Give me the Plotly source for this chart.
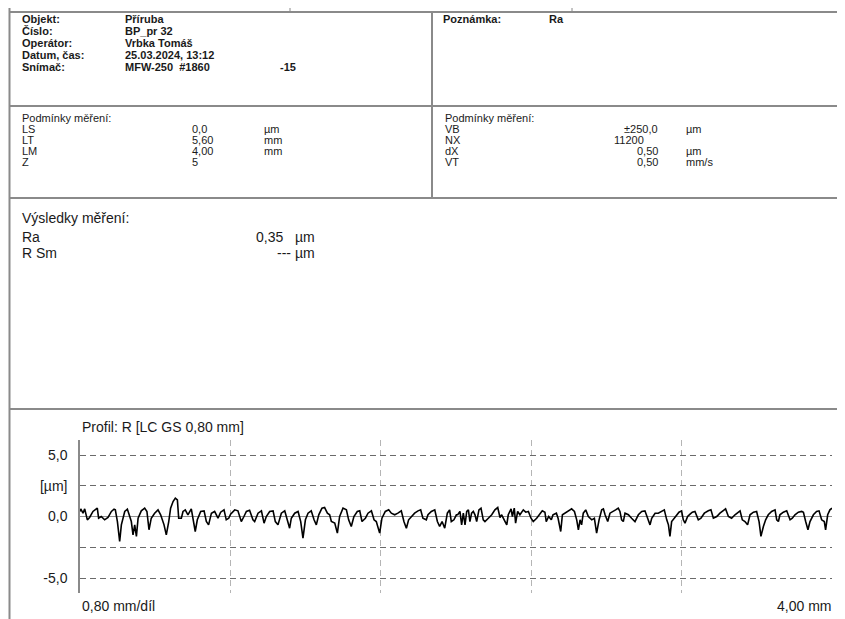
import plotly.graph_objects as go

# the page body keeps its default 8 px margin, so the figure is drawn
# 8 px smaller and every layout position is shifted by that offset
W, H = 845, 619
OFF = 8
FW, FH = W - OFF, H - OFF

# header block
header_labels = ["Objekt:", "Číslo:", "Operátor:", "Datum, čas:", "Snímač:"]
header_values = ["Příruba", "BP_pr 32", "Vrbka Tomáš", "25.03.2024, 13:12", "MFW-250  #1860"]
header_extra = "-15"
note_label, note_value = "Poznámka:", "Ra"

# measuring conditions
cond_title = "Podmínky měření:"
cond_left_names = ["LS", "LT", "LM", "Z"]
cond_left_values = ["0,0", "5,60", "4,00", "5"]
cond_left_units = ["µm", "mm", "mm", ""]
cond_right_names = ["VB", "NX", "dX", "VT"]
cond_right_values = ["±250,0", "11200", "0,50", "0,50"]
cond_right_units = ["µm", "", "µm", "mm/s"]

# results
res_title = "Výsledky měření:"
res_names = ["Ra", "R Sm"]
res_values = ["0,35", "---"]
res_units = ["µm", "µm"]

# profile chart
profile_title = "Profil: R [LC GS 0,80 mm]"
x_grid = [0.0, 0.8, 1.6, 2.4, 3.2, 4.0]
y_ticks = [-5.0, -2.5, 0.0, 2.5, 5.0]
y_ticktext = ["-5,0", "", "0,0", "[µm]", "5,0"]
x_left_label = "0,80 mm/díl"
x_right_label = "4,00 mm"

profile_x = [
    0.000, 0.004, 0.016, 0.025, 0.039, 0.051, 0.069, 0.082, 0.092, 0.099,
    0.113, 0.131, 0.149, 0.167, 0.181, 0.188, 0.199, 0.211, 0.220, 0.238,
    0.252, 0.259, 0.273, 0.282, 0.291, 0.300, 0.309, 0.326, 0.344, 0.356,
    0.367, 0.379, 0.397, 0.415, 0.429, 0.447, 0.459, 0.472, 0.482, 0.495,
    0.507, 0.518, 0.525, 0.539, 0.548, 0.560, 0.574, 0.592, 0.613, 0.624,
    0.642, 0.660, 0.672, 0.684, 0.699, 0.716, 0.734, 0.748, 0.766, 0.778,
    0.791, 0.801, 0.823, 0.840, 0.858, 0.872, 0.885, 0.902, 0.920, 0.929,
    0.947, 0.965, 0.979, 0.991, 1.009, 1.027, 1.039, 1.053, 1.071, 1.089,
    1.103, 1.115, 1.124, 1.142, 1.160, 1.174, 1.186, 1.199, 1.213, 1.230,
    1.245, 1.257, 1.270, 1.287, 1.301, 1.316, 1.328, 1.337, 1.355, 1.369,
    1.381, 1.399, 1.417, 1.429, 1.443, 1.457, 1.475, 1.488, 1.500, 1.518,
    1.532, 1.550, 1.564, 1.576, 1.594, 1.606, 1.624, 1.642, 1.656, 1.674,
    1.691, 1.709, 1.723, 1.736, 1.748, 1.762, 1.780, 1.798, 1.812, 1.824,
    1.842, 1.851, 1.869, 1.887, 1.901, 1.913, 1.926, 1.940, 1.954, 1.966,
    1.975, 1.989, 2.002, 2.009, 2.021, 2.030, 2.039, 2.048, 2.057, 2.066,
    2.074, 2.083, 2.092, 2.101, 2.110, 2.122, 2.133, 2.145, 2.154, 2.172,
    2.190, 2.207, 2.222, 2.234, 2.243, 2.261, 2.270, 2.278, 2.293, 2.300,
    2.310, 2.317, 2.328, 2.340, 2.358, 2.371, 2.385, 2.399, 2.411, 2.429,
    2.447, 2.459, 2.473, 2.480, 2.493, 2.507, 2.516, 2.534, 2.543, 2.557,
    2.566, 2.580, 2.598, 2.615, 2.630, 2.642, 2.651, 2.660, 2.668, 2.677,
    2.690, 2.704, 2.722, 2.736, 2.748, 2.761, 2.775, 2.784, 2.793, 2.807,
    2.819, 2.837, 2.849, 2.863, 2.872, 2.881, 2.890, 2.899, 2.917, 2.934,
    2.952, 2.970, 2.988, 3.005, 3.020, 3.032, 3.041, 3.059, 3.076, 3.094,
    3.108, 3.121, 3.130, 3.138, 3.147, 3.161, 3.174, 3.186, 3.200, 3.209,
    3.218, 3.232, 3.245, 3.257, 3.271, 3.289, 3.303, 3.321, 3.342, 3.356,
    3.369, 3.387, 3.404, 3.422, 3.434, 3.449, 3.466, 3.484, 3.502, 3.511,
    3.523, 3.537, 3.551, 3.564, 3.582, 3.599, 3.612, 3.622, 3.635, 3.647,
    3.661, 3.679, 3.697, 3.706, 3.715, 3.723, 3.741, 3.759, 3.777, 3.789,
    3.803, 3.821, 3.839, 3.848, 3.860, 3.872, 3.883, 3.901, 3.918, 3.931,
    3.945, 3.959, 3.966, 3.977, 3.989, 4.000,
]
profile_y = [
    0.41, 0.62, 0.27, 0.62, -0.27, -0.08, 0.41, 0.59, 0.68, -0.14,
    0.00, -0.27, -0.08, 0.41, 0.59, 0.54, -0.41, -2.03, -0.68, 0.41,
    0.59, 0.27, -0.41, -1.49, -0.68, -1.62, -0.14, 0.46, 0.68, 0.41,
    -1.08, -0.14, 0.27, 0.54, 0.14, -0.68, -1.49, -0.41, 0.68, 1.22,
    1.49, 1.35, -0.14, -0.14, 0.41, 0.54, 0.14, 0.62, -1.22, -0.27,
    0.41, 0.46, -0.41, -0.68, 0.27, 0.41, -0.14, 0.35, 0.54, -0.27,
    -0.14, 0.19, 0.54, 0.46, -0.41, 0.00, 0.41, 0.51, -0.27, -0.41,
    0.27, 0.46, -0.54, 0.00, 0.41, 0.46, -0.41, -0.68, 0.27, 0.46,
    -0.41, -0.95, -0.14, 0.27, 0.41, -0.41, -1.76, -0.27, 0.27, 0.46,
    -0.27, -0.68, 0.14, 0.68, 0.73, 0.27, 0.14, -0.41, -0.54, -1.35,
    0.00, 0.68, 0.54, -0.27, -0.81, 0.00, 0.41, 0.46, -0.41, -0.14,
    0.27, 0.46, -0.27, -0.41, -1.35, -0.14, 0.41, 0.54, 0.27, 0.14,
    0.27, 0.46, -0.41, -0.95, -0.27, 0.00, 0.27, 0.46, 0.54, -0.14,
    -0.27, 0.14, 0.41, 0.54, -0.41, -0.81, -0.41, -0.95, 0.27, 0.54,
    -0.41, -0.27, 0.14, 0.14, 0.41, -0.68, 0.27, -0.68, 0.41, 0.54,
    -0.41, 0.27, 0.41, 0.14, -0.41, 0.54, 0.68, -0.27, -0.41, -0.14,
    0.14, 0.54, 0.73, -0.08, 0.14, -0.41, -0.68, 0.14, 0.62, 0.00,
    0.68, -0.54, 0.41, 0.14, 0.54, 0.35, 0.41, -0.14, -0.41, -0.14,
    0.27, 0.46, 0.35, -0.41, 0.00, -0.27, 0.14, 0.27, -0.14, -1.22,
    0.14, 0.27, 0.41, 0.62, 0.41, -0.27, -1.08, -0.27, -0.68, 0.27,
    0.54, 0.00, -0.27, -0.14, -1.35, -0.27, 0.54, 0.62, 0.14, -0.41,
    0.27, 0.41, 0.54, 0.68, 0.41, -0.27, -0.41, 0.27, 0.14, -0.14,
    -0.41, 0.14, 0.41, 0.46, -0.27, -0.68, -0.14, 0.27, 0.27, 0.41,
    0.54, -0.27, -0.68, -1.62, -0.41, -0.14, 0.14, 0.35, 0.46, -0.27,
    -0.54, 0.00, 0.19, 0.35, 0.41, -0.27, -0.14, 0.27, 0.46, 0.54,
    -0.14, 0.00, 0.27, 0.46, 0.62, 0.00, -0.14, 0.14, 0.41, 0.46,
    -0.27, -0.41, -0.68, 0.14, 0.35, 0.41, -0.41, -1.62, -0.81, -0.27,
    0.14, 0.41, 0.54, -0.27, -0.41, 0.14, 0.35, 0.46, -0.27, -0.14,
    0.14, 0.35, 0.41, 0.35, -0.41, -1.08, -0.41, 0.14, 0.41, 0.46,
    -0.27, -0.41, -1.08, 0.14, 0.54, 0.68,
]


def px(x):
    return (x - OFF) / FW


def py(y):
    return 1 - (y - OFF) / FH


FONT = "Liberation Sans, Arial, sans-serif"
TXT = "#1a1a1a"
LINE = "#8a8a8a"

annotations = []


def label(text, x, y, size=11, anchor="left", bold=False):
    if bold:
        text = "<b>" + text + "</b>"
    annotations.append(dict(
        text=text, x=px(x), y=py(y), xref="paper", yref="paper",
        xanchor=anchor, yanchor="middle", showarrow=False,
        font=dict(family=FONT, size=size, color=TXT)))


# header text
for i, (lab, val) in enumerate(zip(header_labels, header_values)):
    yy = 19 + i * 12
    label(lab, 20, yy, bold=True)
    label(val, 123, yy, bold=True)
label(header_extra, 278, 67, bold=True)
label(note_label, 441, 19, bold=True)
label(note_value, 547, 19, bold=True)

# conditions
label(cond_title, 20, 118)
label(cond_title, 443, 118)
for i in range(4):
    yy = 129 + i * 11
    label(cond_left_names[i], 20, yy)
    label(cond_left_values[i], 190, yy)
    label(cond_left_units[i], 262, yy)
    label(cond_right_names[i], 443, yy)
    if cond_right_values[i] == "11200":
        label(cond_right_values[i], 612, yy)
    else:
        label(cond_right_values[i], 660, yy, anchor="right")
    label(cond_right_units[i], 684, yy)

# results
label(res_title, 20, 218, size=14)
label(res_names[0], 20, 237, size=14)
label(res_values[0], 285, 237, size=14, anchor="right")
label(res_units[0], 293, 237, size=14)
label(res_names[1], 20, 253, size=14)
label(res_values[1] + " " + res_units[1], 317, 253, size=14, anchor="right")

# chart captions
label(profile_title, 80, 427, size=14)
label(x_left_label, 80, 606, size=14)
label(x_right_label, 833, 606, size=14, anchor="right")

shapes = []


def hline(y, x0, x1, w=2):
    shapes.append(dict(type="line", xref="paper", yref="paper",
                       x0=px(x0), x1=px(x1), y0=py(y), y1=py(y),
                       line=dict(color=LINE, width=w)))


def vline(x, y0, y1, w=2):
    shapes.append(dict(type="line", xref="paper", yref="paper",
                       x0=px(x), x1=px(x), y0=py(y0), y1=py(y1),
                       line=dict(color=LINE, width=w)))


hline(12, 9, 845)
hline(106, 9, 845)
hline(198, 9, 845)
hline(409, 9, 845)
vline(9.5, 8, 619)
vline(432, 12, 198)
vline(290, 8, 12, w=1)
vline(572, 8, 12, w=1)

fig = go.Figure()
fig.add_trace(go.Scatter(
    x=profile_x, y=profile_y, mode="lines",
    line=dict(color="#000000", width=1.6), showlegend=False,
    hoverinfo="skip"))

fig.update_layout(
    width=FW, height=FH,
    margin=dict(l=0, r=0, t=0, b=0),
    paper_bgcolor="white", plot_bgcolor="white",
    annotations=annotations, shapes=shapes,
    showlegend=False,
    xaxis=dict(
        domain=[px(80), px(832)], range=[0, 4.0],
        tickvals=x_grid, showticklabels=False, ticks="",
        showgrid=True, gridcolor="#b5b5b5", griddash="6px,4px", gridwidth=1.2,
        zeroline=False, showline=False,
    ),
    yaxis=dict(
        domain=[py(593), py(440)], range=[-6.22, 6.22],
        tickvals=y_ticks, ticktext=y_ticktext, ticks="",
        ticklabelstandoff=8,
        tickfont=dict(family=FONT, size=14, color=TXT),
        showgrid=True, gridcolor="#6a6a6a", griddash="6px,4px", gridwidth=1,
        zeroline=True, zerolinecolor="#909090", zerolinewidth=1,
        showline=True, linecolor="#8a8a8a", linewidth=1.5,
    ),
)

fig.write_html("out.html")
